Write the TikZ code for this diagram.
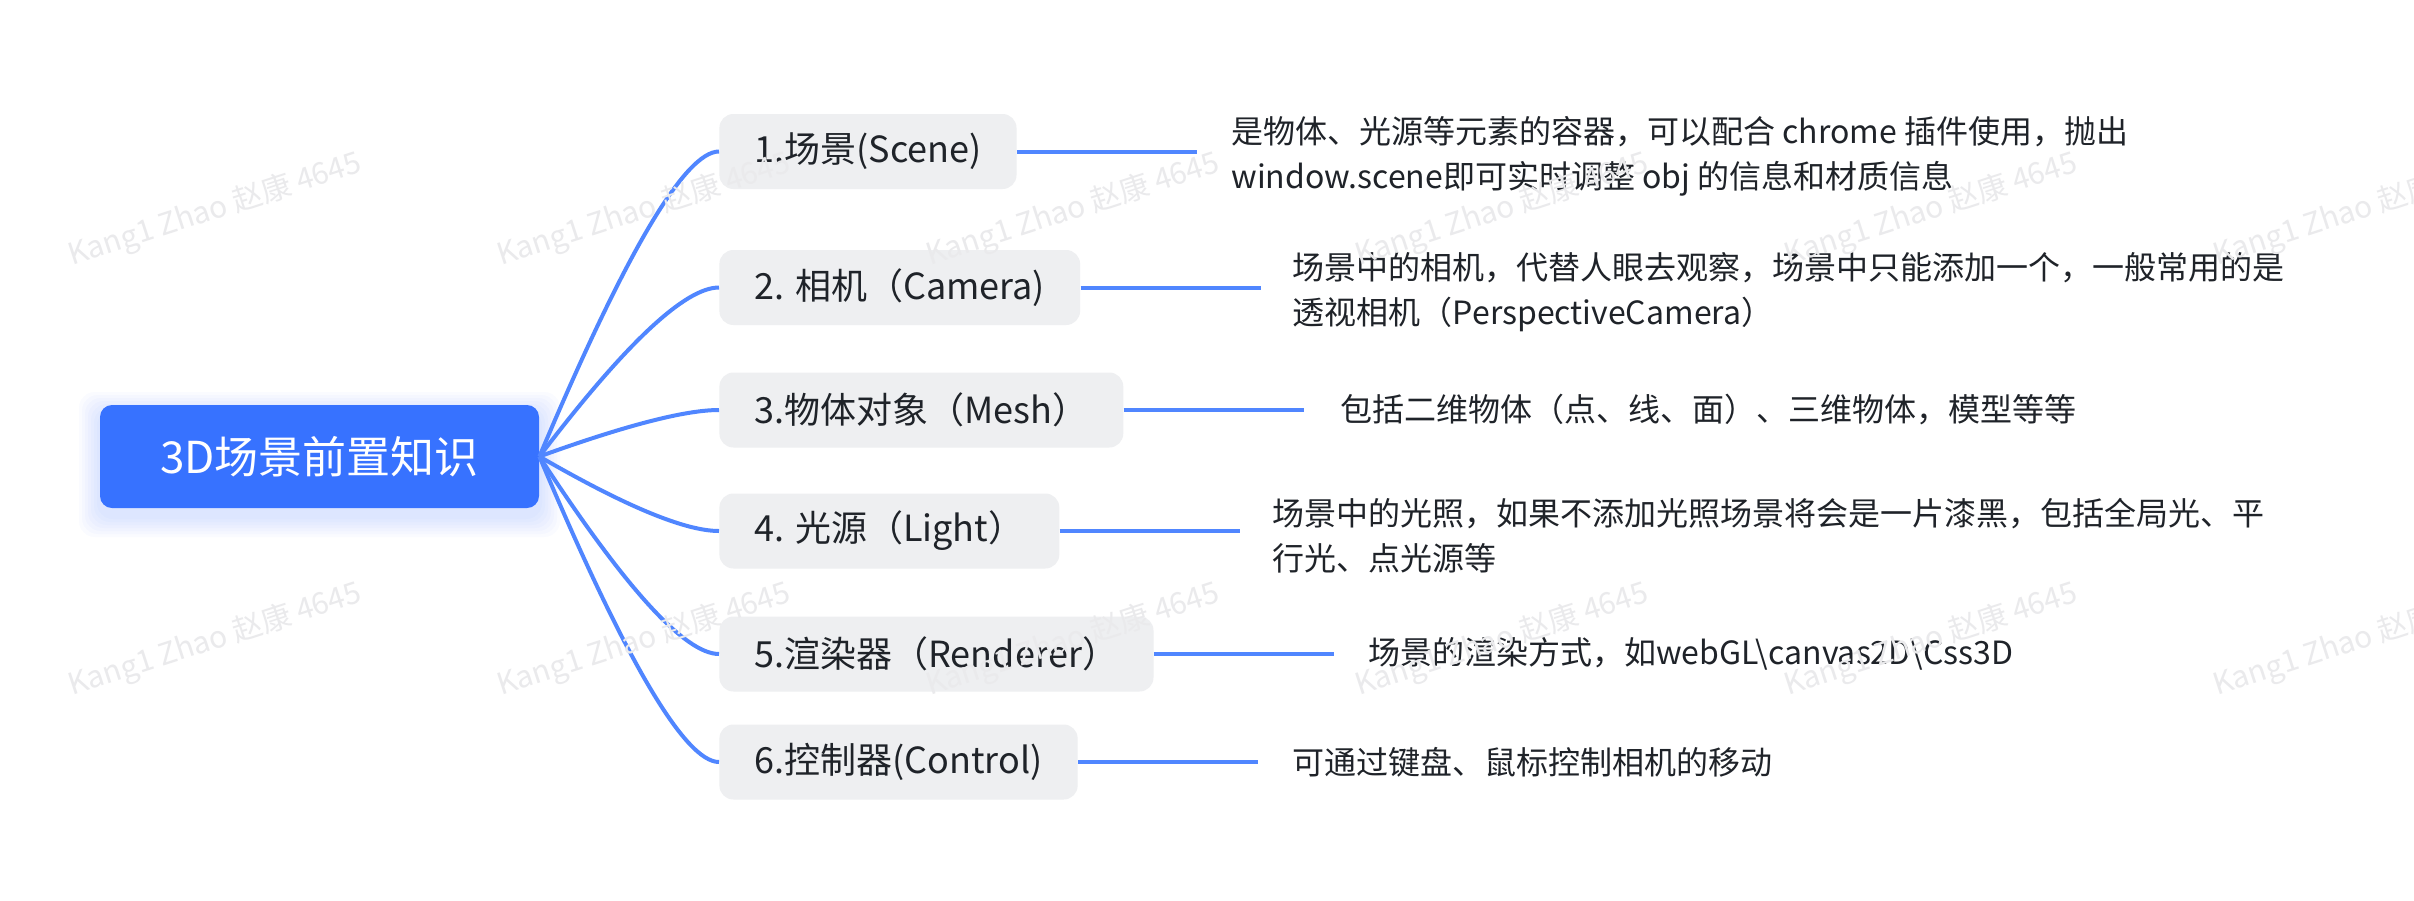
\documentclass[tikz,border=0pt]{standalone}
\usepackage{fontspec}
\setmainfont{Noto Sans CJK SC}
\usetikzlibrary{calc}
\definecolor{rootblue}{RGB}{55,114,255}
\definecolor{linkblue}{RGB}{80,134,255}
\definecolor{boxgray}{RGB}{238,239,241}
\definecolor{txt}{RGB}{31,35,41}
\definecolor{wm}{RGB}{234,234,236}
\begin{document}
\begin{tikzpicture}[x=0.5pt,y=-0.5pt,
 rootbox/.style={fill=rootblue, rounded corners=6pt, minimum width=219.5pt, minimum height=51.5pt, text=white, font=\fontsize{22}{26}\selectfont, inner sep=0pt},
 topic/.style={fill=boxgray, rounded corners=7pt, minimum height=37.5pt, inner xsep=17.5pt, inner ysep=0pt, text=txt, font=\fontsize{18}{22}\selectfont, anchor=west},
 desc/.style={anchor=west, inner sep=0pt, align=left, text=txt, font=\fontsize{16}{22.5}\selectfont},
 twoline/.style={yshift=-2.5pt},
 conn/.style={draw=linkblue, line width=2pt},
 wmark/.style={text=wm, rotate=18, font=\fontsize{15}{15}\selectfont}
]
\useasboundingbox (0,0) rectangle (2414,900);
\fill[white] (0,0) rectangle (2414,900);
% glow of the central topic
\foreach \i in {1,...,7}{
  \fill[rootblue, opacity=0.025, rounded corners=8pt] ({100-3*\i},{405-3*\i+8}) rectangle ({539+3*\i},{508+3*\i+8});
}
\node[rootbox] (root) at (319.5,456.5) {3D场景前置知识};

\node[topic] (t1) at (719,151.5) {1.场景(Scene)};
\node[topic] (t2) at (719,287.5) {2. 相机（Camera)};
\node[topic] (t3) at (719,410) {3.物体对象（Mesh）};
\node[topic] (t4) at (719,531) {4. 光源（Light）};
\node[topic] (t5) at (719,654) {5.渲染器（Renderer）};
\node[topic] (t6) at (719,762) {6.控制器(Control)};

\foreach \k/\yy in {1/151.5,2/287.5,3/410,4/531,5/654,6/762}{
  \coordinate (q\k) at (668,\yy);
  \draw[conn] (root.east) .. controls ($(root.east)!0.6667!(q\k)$) and ($(t\k.west)!0.6667!(q\k)$) .. (t\k.west);
  \coordinate (e\k) at ($(t\k.east)+(180,0)$);
  \draw[conn] (t\k.east) -- (e\k);
}

\node[desc,twoline] (d1) at ($(e1)+(34,0)$) {是物体、光源等元素的容器，可以配合 chrome 插件使用，抛出\\window.scene即可实时调整 obj 的信息和材质信息};
\node[desc,twoline] (d2) at ($(e2)+(32,0)$) {场景中的相机，代替人眼去观察，场景中只能添加一个，一般常用的是\\透视相机（PerspectiveCamera）};
\node[desc] (d3) at ($(e3)+(36,0)$) {包括二维物体（点、线、面）、三维物体，模型等等};
\node[desc,twoline] (d4) at ($(e4)+(32,0)$) {场景中的光照，如果不添加光照场景将会是一片漆黑，包括全局光、平\\行光、点光源等};
\node[desc] (d5) at ($(e5)+(34,0)$) {场景的渲染方式，如webGL\textbackslash canvas2D\textbackslash Css3D};
\node[desc] (d6) at ($(e6)+(34,0)$) {可通过键盘、鼠标控制相机的移动};

% watermarks
\foreach \x in {215,644,1073,1502,1931,2360}{
  \foreach \y in {210,640}{
    \node[wmark] (wm-\x-\y) at (\x,\y) {Kang1 Zhao 赵康 4645};
  }
}
\end{tikzpicture}
\end{document}
